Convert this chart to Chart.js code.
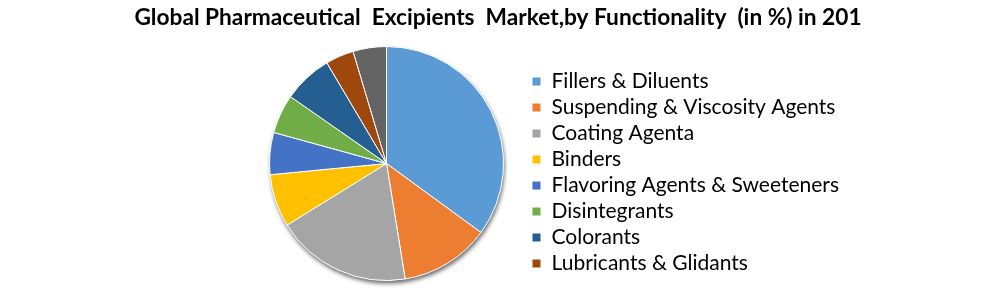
<!DOCTYPE html>
<html>
<head>
<meta charset="utf-8">
<script src="https://cdn.jsdelivr.net/npm/chart.js@4"></script>
<style>
  html, body { margin: 0; padding: 0; background: #fff; }
  #wrap { width: 987px; height: 289px; }
</style>
</head>
<body>
<div id="wrap"><canvas id="excipientsChart"></canvas></div>
<script>
// Pharmaceutical excipients by functionality (share in %)
const chartTitle = 'Global Pharmaceutical  Excipients  Market,by Functionality  (in %) in 201';
const categories = [
    'Fillers & Diluents',
    'Suspending & Viscosity Agents',
    'Coating Agenta',
    'Binders',
    'Flavoring Agents & Sweeteners',
    'Disintegrants',
    'Colorants',
    'Lubricants & Glidants',
    'Others'
];
const shares = [35.0, 12.4, 18.7, 7.3, 5.8, 5.4, 6.8, 3.9, 4.6];
const sliceColors = ['#5B9BD5', '#ED7D31', '#A5A5A5', '#FFC000', '#4472C4', '#70AD47', '#255E91', '#9E480E', '#636363'];
const legendCount = 8;

// soft drop shadow under the whole pie
const pieShadow = {
    id: 'pieShadow',
    beforeDatasetsDraw(chart) {
        const arc = chart.getDatasetMeta(0).data[0];
        if (!arc) return;
        const ctx = chart.ctx;
        ctx.save();
        ctx.shadowColor = 'rgba(0, 0, 0, 0.6)';
        ctx.shadowBlur = 4;
        ctx.shadowOffsetX = 1;
        ctx.shadowOffsetY = 3;
        ctx.fillStyle = '#fff';
        ctx.beginPath();
        ctx.arc(arc.x, arc.y, arc.outerRadius, 0, Math.PI * 2);
        ctx.fill();
        ctx.restore();
    }
};

// title centred over the whole canvas, pie pushed right, legend nudged down
const layoutTweaks = {
    id: 'layoutTweaks',
    afterLayout(chart) {
        if (chart.titleBlock) {
            chart.titleBlock.left = 9;
            chart.titleBlock.right = chart.width;
        }
        const area = chart.chartArea;
        area.left += 46;
        area.width = area.right - area.left;
        if (chart.legend) {
            chart.legend.top += 32;
            chart.legend.bottom += 32;
        }
    }
};

const ctx = document.getElementById('excipientsChart').getContext('2d');
const excipientsChart = new Chart(ctx, {
    type: 'pie',
    data: {
        labels: categories,
        datasets: [{
            data: shares,
            backgroundColor: sliceColors,
            borderColor: '#ffffff',
            borderWidth: 1
        }]
    },
    options: {
        responsive: true,
        maintainAspectRatio: false,
        animation: false,
        layout: {
            padding: { left: 200, right: 138, top: 0, bottom: 8 }
        },
        plugins: {
            title: {
                display: true,
                text: chartTitle,
                color: '#000',
                font: { family: 'Lato', size: 22.7, weight: 'bold', lineHeight: 1.2 },
                padding: { top: 4, bottom: 14.8 }
            },
            legend: {
                position: 'right',
                labels: {
                    color: '#000',
                    font: { family: 'Lato', size: 21, lineHeight: 1.15 },
                    boxWidth: 9,
                    boxHeight: 9,
                    padding: 5,
                    filter: item => item.index < legendCount
                }
            },
            tooltip: { enabled: false }
        }
    },
    plugins: [pieShadow, layoutTweaks]
});
</script>
</body>
</html>
